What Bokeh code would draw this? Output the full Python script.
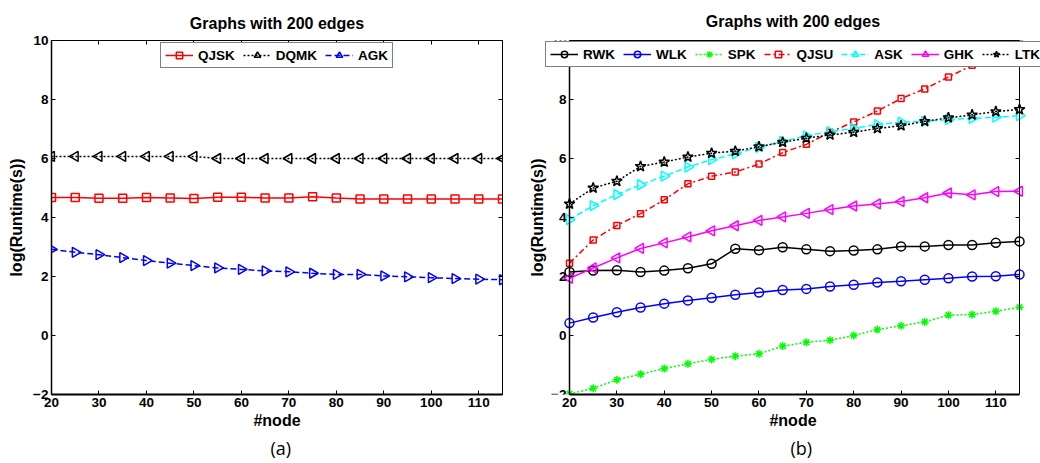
import math
from bokeh.plotting import figure
from bokeh.layouts import row
from bokeh.models import Legend, LegendItem, LinearAxis, FixedTicker, Title, Range1d
from bokeh.embed import file_html
from bokeh.resources import INLINE

# ---------------- data ----------------
nodes = [20, 25, 30, 35, 40, 45, 50, 55, 60, 65, 70, 75, 80, 85, 90, 95, 100, 105, 110, 115]

# panel (a)
qjsk = [4.68, 4.68, 4.65, 4.65, 4.68, 4.66, 4.64, 4.69, 4.69, 4.66, 4.66, 4.70, 4.66, 4.63,
        4.63, 4.63, 4.63, 4.63, 4.63, 4.63]
dqmk = [6.07, 6.07, 6.07, 6.07, 6.07, 6.07, 6.07, 6.0, 6.0, 6.0, 6.0, 6.0, 6.0, 6.0,
        6.0, 6.0, 6.0, 6.0, 6.0, 6.0]
agk = [2.92, 2.82, 2.74, 2.64, 2.54, 2.45, 2.37, 2.29, 2.24, 2.19, 2.16, 2.11, 2.07, 2.07,
       2.02, 1.99, 1.96, 1.93, 1.91, 1.89]

# panel (b)
rwk = [2.15, 2.20, 2.21, 2.15, 2.20, 2.28, 2.43, 2.94, 2.89, 2.99, 2.92, 2.86, 2.88, 2.92,
       3.02, 3.02, 3.07, 3.07, 3.14, 3.19]
wlk = [0.42, 0.61, 0.79, 0.95, 1.08, 1.19, 1.28, 1.38, 1.46, 1.54, 1.58, 1.66, 1.72, 1.80,
       1.84, 1.89, 1.94, 2.00, 2.01, 2.07]
spk = [-1.98, -1.79, -1.50, -1.31, -1.12, -0.96, -0.81, -0.70, -0.62, -0.36, -0.23, -0.16,
       0.0, 0.20, 0.33, 0.46, 0.69, 0.71, 0.82, 0.96]
qjsu = [2.45, 3.24, 3.73, 4.13, 4.60, 5.14, 5.40, 5.54, 5.81, 6.20, 6.48, 6.89, 7.24, 7.61,
        8.03, 8.36, 8.76, 9.16, 9.50, 9.90]
ask = [3.93, 4.40, 4.78, 5.11, 5.40, 5.71, 5.96, 6.16, 6.38, 6.58, 6.77, 6.91, 7.02, 7.15,
       7.23, 7.26, 7.32, 7.36, 7.40, 7.45]
ghk = [1.94, 2.29, 2.63, 2.95, 3.14, 3.34, 3.55, 3.72, 3.90, 4.02, 4.14, 4.27, 4.39, 4.46,
       4.54, 4.67, 4.83, 4.77, 4.88, 4.89]
ltk = [4.46, 5.00, 5.23, 5.73, 5.88, 6.05, 6.18, 6.25, 6.40, 6.55, 6.69, 6.80, 6.89, 7.02,
       7.11, 7.26, 7.38, 7.48, 7.59, 7.66]

x_ticks = [20, 30, 40, 50, 60, 70, 80, 90, 100, 110]
y_ticks = [-2, 0, 2, 4, 6, 8, 10]
x_min, x_max = 20, 115
y_min, y_max = -2, 10
title_text = "Graphs with 200 edges"
x_label = "#node"
y_label = "log(Runtime(s))"

FONT = "Liberation Sans"
TICK_FS = "13.5px"


def base_axis_style(ax, labels=True):
    ax.major_tick_in = 4
    ax.major_tick_out = 0
    ax.minor_tick_line_color = None
    ax.axis_line_color = "black"
    ax.major_tick_line_color = "black"
    ax.major_label_text_font = FONT
    ax.major_label_text_font_style = "bold"
    ax.major_label_text_font_size = TICK_FS
    ax.major_label_text_color = "black"
    ax.axis_label_text_font = FONT
    ax.axis_label_text_font_style = "bold"
    ax.axis_label_text_font_size = "16px"
    ax.axis_label_text_color = "black"
    if not labels:
        ax.major_label_text_font_size = "0px"
        ax.major_label_text_color = None


def make_fig(fw, fh, bl, br, bt, bb, xr, sub, sub_offset, lift_fs, extended=False):
    p = figure(frame_width=fw, frame_height=fh, min_border_left=bl, min_border_right=br,
               min_border_top=bt, min_border_bottom=bb,
               x_range=Range1d(*xr), y_range=Range1d(y_min, y_max),
               output_backend="svg", toolbar_location=None, title=None)
    p.grid.visible = False
    p.background_fill_color = "white"
    p.border_fill_color = "white"
    p.xaxis.ticker = FixedTicker(ticks=x_ticks)
    p.yaxis.ticker = FixedTicker(ticks=y_ticks)
    for ax in p.xaxis + p.yaxis:
        base_axis_style(ax)
    p.xaxis.axis_line_width = 2
    p.yaxis.axis_line_width = 1.5
    p.xaxis.axis_label = x_label
    p.xaxis.major_label_standoff = 3
    p.yaxis.major_label_standoff = 3
    p.xaxis.axis_label_standoff = 2
    p.yaxis.axis_label_standoff = 5
    top = LinearAxis(ticker=FixedTicker(ticks=x_ticks))
    right = LinearAxis(ticker=FixedTicker(ticks=y_ticks))
    for ax in (top, right):
        base_axis_style(ax, labels=False)
        ax.axis_line_width = 1
    top.major_label_standoff = 0
    right.major_label_standoff = 0
    # a tiny blank label on the top axis lifts the title a few pixels
    top.axis_label = " "
    top.axis_label_text_font_size = lift_fs
    top.axis_label_standoff = 0
    if extended:
        p.outline_line_color = None
        p.xaxis.bounds = (x_min, x_max)
        top.bounds = (x_min, x_max)
        p.yaxis.fixed_location = x_min
        right.fixed_location = x_max
        # label-only axis carrying the y title in the left border
        lab = LinearAxis(ticker=FixedTicker(ticks=[]), axis_label=y_label)
        base_axis_style(lab, labels=False)
        lab.axis_line_color = None
        lab.major_tick_line_color = None
        lab.major_label_standoff = 0
        lab.axis_label_standoff = 0
        p.add_layout(lab, "left")
    else:
        p.yaxis.axis_label = y_label
        p.outline_line_color = "black"
        p.outline_line_width = 1
    p.add_layout(top, "above")
    p.add_layout(right, "right")
    t = Title(text=title_text, align="center", text_font=FONT, text_font_style="bold",
              text_font_size="16px", text_color="black", standoff=10)
    p.add_layout(t, "above")
    st = Title(text=sub, align="left", text_font="Open Sans", text_font_style="normal",
               text_font_size="18px", text_color="black", standoff=4, offset=sub_offset)
    p.add_layout(st, "below")
    return p


def add_series(p, y, color, dash, marker, size, angle=0.0, lw=1.5):
    r1 = p.line(nodes, y, line_color=color, line_dash=dash, line_width=lw)
    r2 = p.scatter(nodes, y, marker=marker, size=size, angle=angle, line_color=color,
                   fill_color=None, line_width=1.5)
    return [r1, r2]


LEFT = math.pi / 2
RIGHT = -math.pi / 2

# ---------------- panel (a) ----------------
p1 = make_fig(451, 354, 51, 18, 40, 69, (x_min, x_max), "(a)", 219, "1px")
items1 = [
    LegendItem(label="QJSK", renderers=add_series(p1, qjsk, "#FF0000", "solid", "square", 8)),
    LegendItem(label="DQMK", renderers=add_series(p1, dqmk, "black", "2 2", "triangle", 10, LEFT)),
    LegendItem(label="AGK", renderers=add_series(p1, agk, "#0000FF", "6 3", "triangle", 10, RIGHT)),
]

# ---------------- panel (b) ----------------
# frame widened so the legend may overhang the axes box, as in the original
px_per_unit = 450.0 / (x_max - x_min)
xr2 = (x_min - 24 / px_per_unit, x_max + 21 / px_per_unit)
p2 = make_fig(495, 354, 25, 0, 37, 72, xr2, "(b)", 245, "3px", extended=True)
items2 = [
    LegendItem(label="RWK", renderers=add_series(p2, rwk, "black", "solid", "circle", 9)),
    LegendItem(label="WLK", renderers=add_series(p2, wlk, "#0000FF", "solid", "circle", 9)),
    LegendItem(label="SPK", renderers=add_series(p2, spk, "#00FF00", "2 2", "asterisk", 8)),
    LegendItem(label="QJSU", renderers=add_series(p2, qjsu, "#FF0000", "6 3 2 3", "square", 6)),
    LegendItem(label="ASK", renderers=add_series(p2, ask, "#00FFFF", "6 3", "triangle", 10, RIGHT)),
    LegendItem(label="GHK", renderers=add_series(p2, ghk, "#FF00FF", "solid", "triangle", 10, LEFT)),
    LegendItem(label="LTK", renderers=add_series(p2, ltk, "black", "2 2", "star", 11)),
]


def make_legend(items, loc):
    return Legend(items=items, location=loc, orientation="horizontal",
                  glyph_width=28, glyph_height=16, label_height=16, label_width=10,
                  label_standoff=5, spacing=8, padding=4, margin=0,
                  label_text_font=FONT, label_text_font_style="bold",
                  label_text_font_size="13.5px", label_text_color="black",
                  border_line_color="black", border_line_width=1,
                  background_fill_color="white", background_fill_alpha=1.0)


p1.add_layout(make_legend(items1, (109, 326)), "center")
p2.add_layout(make_legend(items2, (0, 327)), "center")

layout = row(p1, p2, spacing=0)

open("out.html", "w").write(file_html(layout, INLINE))
